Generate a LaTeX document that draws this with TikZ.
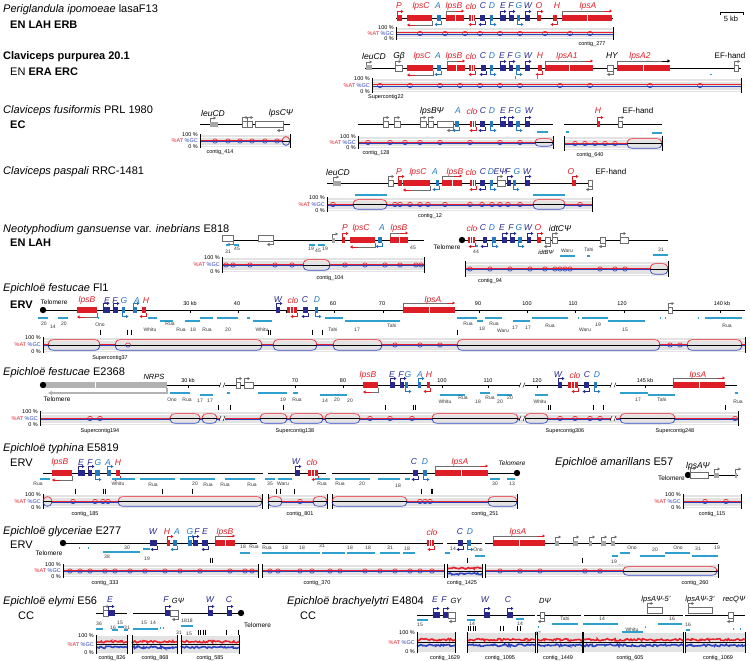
\documentclass[tikz,border=0pt]{standalone}
\usepackage{fontspec}
\setmainfont{Liberation Sans}
\usetikzlibrary{arrows.meta,decorations.pathmorphing}
\definecolor{gred}{RGB}{222,30,38}
\definecolor{gdb}{RGB}{40,40,140}
\definecolor{gmb}{RGB}{35,120,190}
\definecolor{gteal}{RGB}{45,160,205}
\definecolor{gcr}{RGB}{230,35,45}
\definecolor{gcb}{RGB}{45,65,190}
\definecolor{ogray}{RGB}{110,110,110}
\tikzset{
 ttl/.style={anchor=west, font=\fontsize{11}{13}\selectfont, inner sep=0},
 sub/.style={anchor=west, font=\fontsize{11}{13}\selectfont\bfseries, inner sep=0},
 glab/.style={font=\fontsize{8.5}{10}\selectfont\itshape, inner sep=0},
 slab/.style={font=\fontsize{5.5}{6}\selectfont, inner sep=0},
 tlab/.style={font=\fontsize{5}{6}\selectfont, inner sep=0, text=black!80},
 clab/.style={font=\fontsize{5.5}{6}\selectfont, inner sep=0, anchor=north},
 axis/.style={line width=0.8pt, black},
 tbar/.style={line width=2pt, gteal},
 garrow/.style={-{Triangle[length=2.5pt,width=3pt]}, line width=0.7pt},
}
\newcounter{nn}
\newcommand\lab[4][glab]{\stepcounter{nn}\node[#1] (n\arabic{nn}) at (#2,#3) {#4};}
\newcommand\gR[4]{\fill[#4] (#1,{#3-3}) rectangle (#2,{#3+3});\draw[#4,garrow] (#1,{#3-3}) -- (#1,{#3-6.5}) -- ({#1+6.5},{#3-6.5});}
\newcommand\gRb[4]{\fill[#4] (#1,{#3-3}) rectangle (#2,{#3+3});\draw[#4,garrow] (#1,{#3+3}) -- (#1,{#3+6.5}) -- ({#1+6.5},{#3+6.5});}
\newcommand\gL[4]{\fill[#4] (#1,{#3-3}) rectangle (#2,{#3+3});\draw[#4,garrow] (#2,{#3+3}) -- (#2,{#3+6.5}) -- ({#2-6.5},{#3+6.5});}
\newcommand\bR[3]{\fill[gred] (#1,{#3-3}) rectangle (#2,{#3+3});
 \draw[white,line width=0.6pt] ({(#1+#2)/2},{#3-3}) -- ({(#1+#2)/2},{#3+3});
 \draw[ogray,line width=0.6pt] (#1,{#3-3}) -- (#1,{#3-7}) -- ({#2-5},{#3-7});
 \draw[gred,garrow] ({#2-8},{#3-7}) -- (#2,{#3-7});}
\newcommand\bL[3]{\fill[gred] (#1,{#3-3}) rectangle (#2,{#3+3});
 \draw[ogray,line width=0.6pt] (#2,{#3+3}) -- (#2,{#3+7}) -- ({#1+5},{#3+7});
 \draw[gred,garrow] ({#1+8},{#3+7}) -- (#1,{#3+7});}
\newcommand\cL[3]{\fill[gred] (#1,{#3-3}) rectangle (#2,{#3+3});
 \draw[white,line width=0.5pt] ({#1+0.33*(#2-#1)},{#3-3}) -- ({#1+0.33*(#2-#1)},{#3+3}) ({#1+0.66*(#2-#1)},{#3-3}) -- ({#1+0.66*(#2-#1)},{#3+3});
 \draw[gred,garrow] (#2,{#3+3}) -- (#2,{#3+6.5}) -- ({#2-6.5},{#3+6.5});}
\newcommand\oR[3]{\draw[ogray,fill=white,line width=0.5pt] (#1,{#3-3}) rectangle (#2,{#3+3});\draw[ogray,garrow,line width=0.5pt] (#1,{#3-3}) -- (#1,{#3-6.5}) -- ({#1+6},{#3-6.5});}
\newcommand\oL[3]{\draw[ogray,fill=white,line width=0.5pt] (#1,{#3-3}) rectangle (#2,{#3+3});\draw[ogray,garrow,line width=0.5pt] (#2,{#3+3}) -- (#2,{#3+6.5}) -- ({#2-6},{#3+6.5});}
\newcommand\sG[3]{\fill[gray!70] (#1,{#3-2.5}) rectangle (#2,{#3+2.5});\draw[ogray,garrow,line width=0.5pt] (#1,{#3-2.5}) -- (#1,{#3-6}) -- ({#1+6},{#3-6});}
\newcommand\tel[2]{\fill (#1,#2) circle[radius=3.2pt];}
\newcommand\tb[3]{\draw[tbar] (#1,#3) -- (#2,#3);}
\newcommand\bt[2]{\draw[line width=1pt] (#1,{#2-2.5}) -- (#1,{#2+2.5});}
\newcommand\sk[2]{\draw[line width=0.4pt] (#1,#2) -- (#1,{#2+2.5});}
\newcommand\brk[2]{\fill[white] ({#1-2.5},{#2-1.5}) rectangle ({#1+2.5},{#2+1.5});\draw[line width=0.4pt] ({#1-3},{#2+2.5}) -- ({#1-1},{#2-2.5}) ({#1+1},{#2+2.5}) -- ({#1+3},{#2-2.5});}
\newcommand\gc[4]{\pgfmathsetmacro\gcyc{(#3+#4)/2}%
 \fill[gray!22] (#1,#3) rectangle (#2,#4);
 \draw[white,line width=0.6pt] (#1,{#3+2}) -- (#2,{#3+2}) (#1,{#4-2}) -- (#2,{#4-2});
 \draw[gcr,line width=0.8pt] (#1,{\gcyc-0.6}) -- (#2,{\gcyc-0.6});
 \draw[gcb,line width=0.8pt] (#1,{\gcyc+0.6}) -- (#2,{\gcyc+0.6});
 \draw[line width=1pt] (#1,{#3-1}) -- (#1,{#4+1}) (#2,{#3-1}) -- (#2,{#4+1});}
\newcommand\bu[4]{\pgfmathsetmacro\gcyc{(#3+#4)/2}\pgfmathsetmacro\gchh{(#4-#3)/2-1.8}%
 \fill[gray!22] ({#1+1},{\gcyc-1.6}) rectangle ({#2-1},{\gcyc+1.6});
 \draw[line width=0.4pt] (#1,\gcyc) -- (#2,\gcyc);
 \draw[gcr,line width=0.7pt] (#1,{\gcyc-0.6}) .. controls ({#1+2},{\gcyc-\gchh}) .. ({#1+5},{\gcyc-\gchh}) -- ({#2-5},{\gcyc-\gchh}) .. controls ({#2-2},{\gcyc-\gchh}) .. (#2,{\gcyc-0.6});
 \draw[gcb,line width=0.7pt] (#1,{\gcyc+0.6}) .. controls ({#1+2},{\gcyc+\gchh}) .. ({#1+5},{\gcyc+\gchh}) -- ({#2-5},{\gcyc+\gchh}) .. controls ({#2-2},{\gcyc+\gchh}) .. (#2,{\gcyc+0.6});}
\newcommand\ci[3]{\pgfmathsetmacro\gcyc{(#2+#3)/2}%
 \draw[gcr,line width=0.6pt] ({#1-2.5},\gcyc) .. controls ({#1-2.5},{\gcyc-2.8}) and ({#1+2.5},{\gcyc-2.8}) .. ({#1+2.5},\gcyc);
 \draw[gcb,line width=0.6pt] ({#1-2.5},\gcyc) .. controls ({#1-2.5},{\gcyc+2.8}) and ({#1+2.5},{\gcyc+2.8}) .. ({#1+2.5},\gcyc);}
\newcommand\nz[4]{\pgfmathsetmacro\gcyc{(#3+#4)/2}%
 \fill[gray!22] (#1,#3) rectangle (#2,#4);
 \draw[line width=0.4pt] (#1,\gcyc) -- (#2,\gcyc);
 \draw[gcr,line width=1.6pt,decorate,decoration={random steps,segment length=1.5pt,amplitude=1.1pt}] (#1,{\gcyc-2.8}) -- (#2,{\gcyc-2.8});
 \draw[gcb,line width=1.6pt,decorate,decoration={random steps,segment length=1.5pt,amplitude=1.1pt}] (#1,{\gcyc+2.8}) -- (#2,{\gcyc+2.8});
 \draw[line width=1pt] (#1,{#3-1}) -- (#1,{#4+1}) (#2,{#3-1}) -- (#2,{#4+1});}
\newcommand\pl[3]{\lab[slab,anchor=east]{{#1-2}}{#2}{100 \%}\lab[slab,anchor=east]{{#1-2}}{#3}{0 \%}\lab[slab,anchor=east]{{#1-2}}{{(#2+#3)/2}}{\textcolor{gcr}{\%AT} \textcolor{gcb}{\%GC}}}
\begin{document}
\begin{tikzpicture}[x=1pt,y=-1pt]
\useasboundingbox (0,0) rectangle (750,661);
\fill[white] (0,0) rectangle (750,661);
%================ Row 1
\node[ttl] (t1) at (3,10) {\textit{Periglandula ipomoeae} lasaF13};
\node[sub] (s1) at (10,25) {EN LAH ERB};
\draw[axis] (396,18) -- (613,18);
\gR{397}{402}{18}{gred}
\bL{407}{432}{18}
\gL{437}{441}{18}{gmb}
\bR{446}{464}{18}
\cL{469}{475}{18}
\gL{480}{485}{18}{gdb}
\gRb{490}{493}{18}{gmb}
\gR{500}{506}{18}{gdb}
\gR{509}{514}{18}{gdb}
\gRb{517}{520}{18}{gmb}
\gR{525}{530}{18}{gdb}
\gR{537}{541}{18}{gred}
\gL{553}{557}{18}{gred}
\bR{562}{612}{18}
\lab[glab,gred]{399}{6}{P}
\lab[glab,gred]{421}{6}{lpsC}
\lab[glab,gmb]{438}{6}{A}
\lab[glab,gred]{454}{6}{lpsB}
\lab[glab,gred]{471}{6}{clo}
\lab[glab,gdb]{483}{6}{C}
\lab[glab,gmb]{492}{6}{D}
\lab[glab,gdb]{503}{6}{E}
\lab[glab,gdb]{511}{6}{F}
\lab[glab,gmb]{519}{6}{G}
\lab[glab,gdb]{528}{6}{W}
\lab[glab,gred]{539}{6}{O}
\lab[glab,gred]{557}{6}{H}
\lab[glab,gred]{588}{6}{lpsA}
\gc{396}{613}{28}{39}
\pl{396}{28}{39}
\foreach \q in {420,445,465,480,500,520,545,570,590}{\ci{\q}{28}{39}}
\lab[clab]{592}{41}{contig\_277}
\draw[line width=0.6pt] (720,15) -- (720,12) -- (743,12) -- (743,15);
\lab[slab,font=\fontsize{7.5}{9}\selectfont]{731}{19}{5 kb}
%================ Row 2
\node[ttl,font=\fontsize{11}{13}\selectfont\bfseries] (t2) at (3,57) {Claviceps purpurea 20.1};
\node[ttl] (s2) at (10,72) {EN \textbf{ERA ERC}};
\draw[axis] (365,68) -- (741,68);
\sG{366}{372}{68}
\oR{395}{402}{68}
\bL{407}{433}{68}
\gL{437}{441}{68}{gmb}
\bR{447}{465}{68}
\cL{469}{475}{68}
\gL{481}{486}{68}{gdb}
\gRb{490}{493}{68}{gmb}
\gR{500}{506}{68}{gdb}
\gR{509}{513}{68}{gdb}
\gRb{516}{520}{68}{gmb}
\gR{525}{530}{68}{gdb}
\gL{538}{542}{68}{gred}
\bR{545}{593}{68}
\oL{607}{613}{68}
\bR{617}{670}{68}
\draw[black,garrow] (662,61) -- (670,61);
\oR{734}{738}{68}
\lab{374}{56}{leuCD}
\lab{399}{56}{G\textit{β}}
\lab[glab,gred]{422}{56}{lpsC}
\lab[glab,gmb]{438}{56}{A}
\lab[glab,gred]{454}{56}{lpsB}
\lab[glab,gred]{471}{56}{clo}
\lab[glab,gdb]{483}{56}{C}
\lab[glab,gmb]{492}{56}{D}
\lab[glab,gdb]{502}{56}{E}
\lab[glab,gdb]{510}{56}{F}
\lab[glab,gmb]{518}{56}{G}
\lab[glab,gdb]{528}{56}{W}
\lab[glab,gred]{540}{56}{H}
\lab[glab,gred]{567}{56}{lpsA1}
\lab{612}{56}{HY}
\lab[glab,gred]{640}{56}{lpsA2}
\lab[glab,font=\fontsize{8}{10}\selectfont]{730}{56}{EF-hand}
\draw[gteal,line width=1pt] (515,76) -- (515,82) (537,75) -- (537,82) (710,75) -- (712,75);
\gc{372}{741}{79}{92}
\pl{372}{79}{92}
\foreach \q in {380,410,440,460,480,500,520,560,590,650,700}{\ci{\q}{79}{92}}
\lab[clab,anchor=north west]{368}{94}{Supercontig22}
%================ Row 3
\node[ttl] (t3) at (3,111) {\textit{Claviceps fusiformis} PRL 1980};
\node[sub] (s3) at (10,125) {EC};
\draw[axis] (200,124) -- (290,124);
\sG{210}{218}{124}
\oR{242}{247}{124}
\oR{247}{252}{124}
\oL{255}{283}{124}
\lab{213}{113}{leuCD}
\lab{281}{113}{lpsC\textit{Ψ}}
\gc{200}{290}{135}{147}
\pl{200}{135}{147}
\foreach \q in {215,228,240,252,265,277}{\ci{\q}{135}{147}}
\bu{282}{290}{135}{147}
\lab[clab]{220}{149}{contig\_414}
\draw[axis] (358,124) -- (553,124);
\oR{383}{388}{124}
\oR{394}{400}{124}
\oR{420}{426}{124}
\oR{428}{433}{124}
\oL{437}{453}{124}
\gL{455}{459}{124}{gmb}
\cL{470}{476}{124}
\gL{480}{485}{124}{gdb}
\gRb{490}{493}{124}{gmb}
\gR{500}{506}{124}{gdb}
\gR{508}{513}{124}{gdb}
\gRb{516}{520}{124}{gmb}
\gR{525}{530}{124}{gdb}
\lab{432}{111}{lpsB\textit{Ψ}}
\lab[glab,gmb]{458}{111}{A}
\lab[glab,gred]{472}{111}{clo}
\lab[glab,gdb]{483}{111}{C}
\lab[glab,gmb]{492}{111}{D}
\lab[glab,gdb]{503}{111}{E}
\lab[glab,gdb]{511}{111}{F}
\lab[glab,gmb]{518}{111}{G}
\lab[glab,gdb]{529}{111}{W}
\tb{537}{548}{132}
\gc{358}{553}{137}{148}
\pl{358}{137}{148}
\foreach \q in {368,390,405,420,440,470,500,520}{\ci{\q}{137}{148}}
\bu{535}{553}{137}{148}
\lab[clab]{376}{150}{contig\_128}
\draw[axis] (564,124) -- (662,124);
\gR{597}{600}{124}{gred}
\oR{618}{622}{124}
\lab[glab,gred]{598}{111}{H}
\lab[glab,font=\fontsize{8}{10}\selectfont]{638}{111}{EF-hand}
\tb{566}{569}{132}
\tb{652}{662}{133}
\gc{564}{662}{137}{150}
\foreach \q in {575,585,595,605,615}{\ci{\q}{137}{150}}
\bu{627}{662}{137}{150}
\lab[clab]{590}{152}{contig\_640}
%================ Row 4
\node[ttl] (t4) at (3,172) {\textit{Claviceps paspali} RRC-1481};
\draw[axis] (327,183) -- (593,183);
\sG{333}{341}{183}
\oR{388}{393}{183}
\gR{398}{402}{183}{gred}
\bL{403}{430}{183}
\gL{436}{439}{183}{gmb}
\bR{442}{462}{183}
\cL{470}{476}{183}
\gL{480}{485}{183}{gdb}
\gRb{490}{493}{183}{gmb}
\oR{497}{505}{183}
\gR{507}{511}{183}{gdb}
\gRb{513}{516}{183}{gmb}
\gR{525}{530}{183}{gdb}
\gR{572}{576}{183}{gred}
\oL{588}{592}{183}
\lab{338}{172}{leuCD}
\lab[glab,gred]{399}{172}{P}
\lab[glab,gred]{418}{172}{lpsC}
\lab[glab,gmb]{435}{172}{A}
\lab[glab,gred]{455}{172}{lpsB}
\lab[glab,gred]{471}{172}{clo}
\lab[glab,gdb]{483}{172}{C}
\lab[glab,gmb]{491}{172}{D}
\lab[glab,gdb]{500}{172}{E\textit{Ψ}}
\lab[glab,gdb]{508}{172}{F}
\lab[glab,gmb]{517}{172}{G}
\lab[glab,gdb]{527}{172}{W}
\lab[glab,gred]{571}{172}{O}
\lab[glab,font=\fontsize{8}{10}\selectfont]{611}{172}{EF-hand}
\tb{355}{387}{195}
\tb{533}{565}{195}
\gc{327}{592}{198}{211}
\pl{327}{198}{211}
\foreach \q in {333,395,400,410,420,428,445,470,482,492,500,508,520,580}{\ci{\q}{198}{211}}
\bu{353}{387}{198}{211}
\bu{533}{565}{198}{211}
\lab[clab]{430}{213}{contig\_12}
%================ Row 5
\node[ttl] (t5) at (3,230) {\textit{Neotyphodium gansuense} var. \textit{inebrians} E818};
\node[sub] (s5) at (10,243) {EN LAH};
\draw[axis] (222,240) -- (424,240);
\oL{222}{233}{238}
\oL{258}{273}{238}
\sG{332}{335}{240}
\gR{342}{345}{240}{gred}
\bL{350}{375}{240}
\gL{378}{382}{240}{gmb}
\bR{390}{408}{240}
\lab[glab,gred]{345}{228}{P}
\lab[glab,gred]{361}{228}{lpsC}
\lab[glab,gmb]{382}{228}{A}
\lab[glab,gred]{399}{228}{lpsB}
\tb{226}{229}{245}
\tb{234}{239}{245}
\tb{309}{315}{245}
\tb{318}{325}{245}
\lab[tlab]{228}{252}{31}
\lab[tlab]{237}{249}{45}
\lab[tlab]{311}{249}{19}
\lab[tlab]{318}{251}{45}
\lab[tlab]{325}{249}{19}
\lab[tlab]{413}{248}{45}
\gc{222}{424}{258}{272}
\pl{222}{258}{272}
\foreach \q in {226,233,250,275,292,345,365,385,400,416,421}{\ci{\q}{258}{272}}
\bu{303}{330}{258}{272}
\lab[clab]{330}{275}{contig\_104}
\tel{462}{240}
\lab[slab,font=\fontsize{6.5}{8}\selectfont]{447}{247}{Telomere}
\draw[axis] (462,240) -- (668,240);
\cL{468}{475}{240}
\gL{483}{487}{240}{gdb}
\gRb{492}{496}{240}{gmb}
\gR{502}{507}{240}{gdb}
\gR{510}{515}{240}{gdb}
\gRb{518}{522}{240}{gmb}
\gR{527}{531}{240}{gdb}
\gR{537}{541}{240}{gred}
\oL{545}{550}{240}
\oR{552}{557}{240}
\oL{600}{605}{240}
\oR{620}{628}{240}
\lab[glab,gred]{472}{228}{clo}
\lab[glab,gdb]{483}{228}{C}
\lab[glab,gmb]{492}{228}{D}
\lab[glab,gdb]{502}{228}{E}
\lab[glab,gdb]{511}{228}{F}
\lab[glab,gmb]{519}{228}{G}
\lab[glab,gdb]{528}{228}{W}
\lab[glab,gred]{538}{228}{O}
\lab[glab]{560}{228}{idtC\textit{Ψ}}
\tb{476}{478}{246}
\lab[tlab]{476}{252}{44}
\lab[slab,font=\fontsize{6}{7}\selectfont\itshape]{546}{252}{idtB\textit{Ψ}}
\lab[tlab]{567}{251}{Waru}
\tb{560}{575}{256}
\lab[tlab]{589}{250}{Tahi}
\tb{587}{590}{256}
\lab[tlab]{661}{250}{31}
\tb{653}{668}{255}
\gc{465}{668}{262}{276}
\foreach \q in {470,490,510,530,545,555,560,565,570,600,615,625}{\ci{\q}{262}{276}}
\bu{650}{668}{262}{276}
\lab[clab]{490}{278}{contig\_94}
%================ Row 6 Fl1
\node[ttl] (t6) at (3,289) {\textit{Epichloë festucae} Fl1};
\node[sub] (s6) at (10,305) {ERV};
\draw[axis] (43,310) -- (745,310);
\tel{43}{310}
\lab[slab,font=\fontsize{6.5}{8}\selectfont]{54}{302}{Telomere}
\foreach \q in {93.6,141.8,190,238.2,286.4,334.6,382.8,431,479.2,527.4,575.6,623.8,672,720.2}{\sk{\q}{310}}
\bL{77}{97}{310}
\gR{103}{110}{310}{gdb}
\gR{113}{118}{310}{gdb}
\gRb{122}{125}{310}{gmb}
\gR{133}{137}{310}{gmb}
\gL{142}{146}{310}{gred}
\gR{276}{280}{310}{gdb}
\cL{287}{297}{310}
\gL{303}{308}{310}{gdb}
\gRb{315}{318}{310}{gmb}
\bR{403}{455}{310}
\oR{668}{672}{310}
\lab[glab,gred]{87}{300.5}{lpsB}
\lab[glab,gdb]{107}{300.5}{E}
\lab[glab,gdb]{115}{300.5}{F}
\lab[glab,gmb]{124}{300.5}{G}
\lab[glab,gmb]{137}{300.5}{A}
\lab[glab,gred]{146}{300.5}{H}
\lab[glab,gdb]{278}{300}{W}
\lab[glab,gred]{293}{300}{clo}
\lab[glab,gdb]{305}{300}{C}
\lab[glab,gmb]{317}{300}{D}
\lab[glab,gred]{433}{300}{lpsA}
\lab[slab]{190}{304}{30 kb}
\lab[slab]{237}{304}{40}
\lab[slab]{333}{304}{60}
\lab[slab]{382}{304}{70}
\lab[slab]{478}{304}{90}
\lab[slab]{527}{304}{100}
\lab[slab]{573}{304}{110}
\lab[slab]{622}{304}{120}
\lab[slab]{722}{304}{140 kb}
\tb{38}{48}{318}\tb{58}{68}{318}\tb{148}{157}{318}\tb{160}{173}{321}\tb{185}{200}{321}\tb{200}{213}{318}\tb{217}{238}{318}\tb{247}{250}{318}\tb{253}{272}{321}
\tb{325}{343}{318}\tb{345}{400}{321}\tb{457}{477}{318}\tb{477}{483}{321}\tb{485}{502}{318}\tb{513}{530}{321}\tb{532}{568}{318}\tb{582}{608}{318}\tb{608}{645}{321}\tb{705}{742}{318}
\tb{98}{99}{318}\tb{578}{579}{318}\tb{660}{661}{318}\tb{665}{666}{318}\tb{698}{699}{318}
\lab[tlab]{44}{324}{20}\lab[tlab]{53}{327}{14}\lab[tlab]{64}{324}{20}\lab[tlab]{100}{325}{Ono}
\lab[tlab]{150}{330}{Whitu}\lab[tlab]{170}{324}{Rua}\lab[tlab]{181}{330}{Rua}\lab[tlab]{193}{330}{18}\lab[tlab]{207}{330}{Rua}\lab[tlab]{228}{330}{20}\lab[tlab]{262}{330}{Whitu}
\lab[tlab]{333}{330}{Tahi}\lab[tlab]{357}{330}{17}\lab[tlab]{392}{326}{Tahi}
\lab[tlab]{468}{324}{Rua}\lab[tlab]{482}{329}{18}\lab[tlab]{494}{324}{Rua}\lab[tlab]{503}{331}{Waru}\lab[tlab]{515}{328}{17}\lab[tlab]{528}{328}{17}\lab[tlab]{550}{326}{Rua}\lab[tlab]{585}{330}{Waru}\lab[tlab]{598}{325}{19}\lab[tlab]{625}{330}{15}\lab[tlab]{727}{326}{Rua}
\foreach \q in {100,127,131,268,270,312,322,457}{\bt{\q}{332}}
\gc{43}{745}{338}{352}
\pl{43}{338}{352}
\bu{48}{100}{338}{352}\bu{115}{262}{338}{352}\bu{273}{317}{338}{352}\bu{333}{382}{338}{352}\bu{457}{660}{338}{352}\bu{687}{742}{338}{352}
\foreach \q in {128,395,420,440,670,680}{\ci{\q}{338}{352}}
\lab[clab]{110}{355}{Supercontig37}
%================ Row 7 E2368
\node[ttl] (t7) at (3,373) {\textit{Epichloë festucae} E2368};
\draw[axis] (43,385) -- (737,385);
\fill[gray!60] (43,382) rectangle (167,388);
\draw[white,line width=0.6pt] (95,382) -- (95,388);
\draw[gray!60,line width=1.2pt,-{Triangle[length=4pt,width=4pt]}] (167,388) -- (167,393) -- (48,393);
\tel{43}{385}
\lab[glab,font=\fontsize{7.5}{9}\selectfont\itshape]{154}{377}{NRPS}
\lab[slab,font=\fontsize{6.5}{8}\selectfont]{57}{399}{Telomere}
\foreach \q in {188,236,295,343,390,442,488,537,645,693}{\sk{\q}{385}}
\oR{236}{240}{385}
\oR{244}{253}{385}
\bL{363}{378}{385}
\gR{390}{395}{385}{gdb}
\gR{400}{404}{385}{gdb}
\gRb{405}{408}{385}{gmb}
\gR{418}{421}{385}{gmb}
\gL{427}{430}{385}{gred}
\gR{558}{562}{385}{gdb}
\cL{568}{578}{385}
\gL{584}{589}{385}{gdb}
\gRb{594}{597}{385}{gmb}
\bR{673}{725}{385}
\brk{222}{385}\brk{522}{385}\brk{613}{385}
\lab[glab,gred]{368}{375}{lpsB}
\lab[glab,gdb]{392}{375}{E}
\lab[glab,gdb]{401}{375}{F}
\lab[glab,gmb]{408}{375}{G}
\lab[glab,gmb]{420}{375}{A}
\lab[glab,gred]{429}{375}{H}
\lab[glab,gdb]{558}{375}{W}
\lab[glab,gred]{575}{375}{clo}
\lab[glab,gdb]{587}{375}{C}
\lab[glab,gmb]{597}{375}{D}
\lab[glab,gred]{698}{375}{lpsA}
\lab[slab]{188}{381}{30 kb}
\lab[slab]{295}{381}{70}
\lab[slab]{343}{381}{80}
\lab[slab]{442}{381}{100}
\lab[slab]{488}{381}{110}
\lab[slab]{537}{381}{120}
\lab[slab]{645}{381}{145 kb}
\tb{170}{190}{393}\tb{200}{213}{395}\tb{227}{230}{393}\tb{258}{287}{393}\tb{293}{298}{393}\tb{320}{347}{395}
\tb{440}{465}{395}\tb{480}{490}{393}\tb{497}{512}{395}\tb{535}{548}{395}\tb{620}{648}{393}\tb{648}{675}{395}\tb{735}{738}{393}
\lab[tlab]{172}{400}{Ono}\lab[tlab]{187}{400}{Rua}\lab[tlab]{200}{401}{17}\lab[tlab]{210}{401}{17}\lab[tlab]{283}{400}{19}\lab[tlab]{297}{400}{Rua}\lab[tlab]{325}{401}{14}\lab[tlab]{337}{400}{20}\lab[tlab]{350}{401}{20}
\lab[tlab]{445}{402}{Whitu}\lab[tlab]{463}{398}{Rua}\lab[tlab]{478}{402}{18}\lab[tlab]{490}{398}{Rua}\lab[tlab]{500}{402}{20}\lab[tlab]{510}{398}{20}\lab[tlab]{540}{402}{Whitu}\lab[tlab]{638}{400}{17}\lab[tlab]{662}{400}{Tahi}\lab[tlab]{738}{402}{Rua}
\foreach \q in {218,230,283,385,413,415,548,550,593,603,725}{\bt{\q}{407}}
\gc{40}{738}{412}{425}
\pl{40}{412}{425}
\bu{170}{200}{412}{425}\bu{202}{217}{412}{425}\bu{260}{287}{412}{425}\bu{290}{323}{412}{425}\bu{325}{360}{412}{425}\bu{432}{518}{412}{425}\bu{525}{548}{412}{425}\bu{620}{675}{412}{425}
\foreach \q in {90,100,370,390,412,560,575,590,600,735}{\ci{\q}{412}{425}}
\brk{222}{418.5}\brk{522}{418.5}\brk{613}{418.5}
\lab[clab]{100}{428}{Supercontig194}
\lab[clab]{295}{428}{Supercontig138}
\lab[clab]{565}{428}{Supercontig306}
\lab[clab]{675}{428}{Supercontig248}
%================ Row 8 typhina
\node[ttl] (t8) at (3,449) {\textit{Epichloë typhina} E5819};
\node[ttl] (s8) at (10,463) {ERV};
\draw[axis] (43,473) -- (263,473);
\draw[axis] (268,473) -- (326,473);
\draw[axis] (332,473) -- (517,473);
\bL{52}{72}{473}
\gR{78}{85}{473}{gdb}
\gR{88}{92}{473}{gdb}
\gRb{95}{100}{473}{gmb}
\gR{107}{111}{473}{gmb}
\gL{116}{120}{473}{gred}
\gR{295}{300}{473}{gdb}
\cL{308}{318}{473}
\gL{413}{418}{473}{gdb}
\gRb{423}{427}{473}{gmb}
\bR{435}{488}{473}
\tel{517}{473}
\lab[slab,font=\fontsize{6.5}{8}\selectfont\itshape]{512}{463}{Telomere}
\lab[glab,gred]{60}{462.5}{lpsB}
\lab[glab,gdb]{81}{462.5}{E}
\lab[glab,gdb]{90}{462.5}{F}
\lab[glab,gmb]{98}{462.5}{G}
\lab[glab,gmb]{108}{462.5}{A}
\lab[glab,gred]{118}{462.5}{H}
\lab[glab,gdb]{296}{462}{W}
\lab[glab,gred]{312}{462}{clo}
\lab[glab,gdb]{414}{462}{C}
\lab[glab,gmb]{425}{462}{D}
\lab[glab,gred]{460}{462}{lpsA}
\tb{40}{50}{479}\tb{112}{135}{479}\tb{140}{175}{479}\tb{180}{215}{479}\tb{225}{255}{479}\tb{265}{275}{479}\tb{278}{292}{479}\tb{315}{330}{479}\tb{335}{370}{479}\tb{378}{400}{479}\tb{405}{410}{479}\tb{490}{500}{479}\tb{507}{515}{479}
\lab[tlab]{38}{484}{Rua}\lab[tlab]{118}{484}{Whitu}\lab[tlab]{153}{485}{Rua}\lab[tlab]{195}{484}{20}\lab[tlab]{208}{485}{Rua}\lab[tlab]{225}{485}{Rua}\lab[tlab]{252}{485}{Rua}\lab[tlab]{270}{484}{35}\lab[tlab]{283}{484}{Waru}\lab[tlab]{322}{484}{Rua}\lab[tlab]{340}{484}{Rua}\lab[tlab]{362}{484}{20}\lab[tlab]{398}{486}{18}\lab[tlab]{495}{484}{30}\lab[tlab]{512}{484}{13}
\foreach \q in {75,103,105,162,192,276,280,294,421,431,432}{\bt{\q}{491}}
\gc{43}{262}{495}{508}
\pl{43}{495}{508}
\bu{43}{52}{495}{508}\bu{118}{262}{495}{508}
\foreach \q in {73,95,103,108}{\ci{\q}{495}{508}}
\gc{268}{327}{495}{508}
\bu{268}{282}{495}{508}\bu{313}{327}{495}{508}\ci{300}{495}{508}
\gc{332}{517}{495}{508}
\bu{332}{407}{495}{508}\bu{488}{517}{495}{508}
\foreach \q in {420,425,430}{\ci{\q}{495}{508}}
\lab[clab]{85}{511}{contig\_185}
\lab[clab]{300}{511}{contig\_801}
\lab[clab]{485}{511}{contig\_251}
% amarillans
\node[ttl] (t8b) at (555,463) {\textit{Epichloë amarillans} E57};
\lab{698}{466}{lpsA\textit{Ψ}}
\lab[slab,font=\fontsize{6.5}{8}\selectfont,anchor=east]{685}{478}{Telomere}
\draw[axis] (688,475) -- (738,475);
\tel{688}{475}
\oR{690}{708}{475}
\sG{714}{719}{475}
\sG{735}{737}{475}
\gc{683}{741}{495}{508}
\pl{683}{495}{508}
\ci{705}{495}{508}\ci{726}{495}{508}
\lab[clab]{712}{511}{contig\_115}
%================ Row 9 glyceriae
\node[ttl] (t9) at (3,532) {\textit{Epichloë glyceriae} E277};
\node[ttl] (s9) at (10,545) {ERV};
\tel{63}{543}
\lab[slab,font=\fontsize{6.5}{8}\selectfont]{49}{553}{Telomere}
\draw[axis] (63,543) -- (257,543);
\draw[axis] (262,543) -- (443,543);
\draw[axis] (447,543) -- (482,543);
\draw[axis] (485,543) -- (718,543);
\gL{150}{157}{543}{gdb}
\gR{167}{170}{543}{gred}
\gL{173}{177}{543}{gmb}
\gR{188}{192}{543}{gmb}
\gR{193}{198}{543}{gdb}
\gL{202}{208}{543}{gdb}
\bR{215}{235}{543}
\cL{427}{434}{543}
\gL{458}{463}{543}{gdb}
\gRb{467}{471}{543}{gmb}
\bR{493}{545}{543}
\sG{555}{559}{543}\sG{573}{578}{543}\sG{589}{592}{543}\sG{601}{606}{543}\sG{611}{615}{543}
\lab[glab,gdb]{153}{532}{W}
\lab[glab,gred]{167}{532}{H}
\lab[glab,gmb]{177}{532}{A}
\lab[glab,gmb]{190}{532}{G}
\lab[glab,gdb]{197}{532}{F}
\lab[glab,gdb]{205}{532}{E}
\lab[glab,gred]{225}{532}{lpsB}
\lab[glab,gred]{432}{532}{clo}
\lab[glab,gdb]{460}{532}{C}
\lab[glab,gmb]{470}{532}{D}
\lab[glab,gred]{518}{532}{lpsA}
\tb{103}{140}{552}\tb{143}{150}{549}\tb{240}{250}{553}\tb{262}{290}{553}\tb{290}{320}{553}\tb{322}{345}{553}\tb{347}{375}{553}\tb{380}{400}{553}\tb{403}{415}{553}\tb{445}{450}{553}\tb{475}{485}{556}\tb{612}{618}{556}\tb{620}{630}{553}\tb{640}{665}{556}\tb{665}{690}{553}\tb{692}{718}{556}
\tb{79}{80}{548}\tb{88}{89}{548}
\lab[tlab]{107}{557}{38}\lab[tlab]{127}{548}{30}\lab[tlab]{147}{559}{19}\lab[tlab]{243}{547}{18}\lab[tlab]{254}{547}{Rua}\lab[tlab]{267}{548}{Rua}\lab[tlab]{285}{548}{18}\lab[tlab]{302}{548}{18}\lab[tlab]{322}{546}{31}\lab[tlab]{350}{548}{18}\lab[tlab]{368}{548}{18}
\lab[tlab]{390}{548}{31}\lab[tlab]{407}{549}{18}\lab[tlab]{453}{549}{14}\lab[tlab]{478}{550}{Ono}\lab[tlab]{614}{562}{19}\lab[tlab]{621}{567}{31}\lab[tlab]{632}{548}{Ono}\lab[tlab]{655}{550}{20}\lab[tlab]{678}{548}{Ono}\lab[tlab]{698}{549}{31}\lab[tlab]{717}{548}{19}
\foreach \q in {210,212,467,582}{\bt{\q}{560}}
\gc{63}{258}{565}{577}
\pl{63}{565}{577}
\foreach \q in {70,80,90,105,115,130,145,165,180,200,230,245,252}{\ci{\q}{565}{577}}
\gc{262}{444}{565}{577}
\foreach \q in {270,278,300,312,330,340,365,380,395,410,420,432}{\ci{\q}{565}{577}}
\nz{447}{482}{565}{577}
\gc{485}{718}{565}{577}
\foreach \q in {500,520,540,585,600}{\ci{\q}{565}{577}}
\bu{623}{717}{565}{577}
\lab[clab]{105}{580}{contig\_333}
\lab[clab]{317}{580}{contig\_370}
\lab[clab]{462}{580}{contig\_1425}
\lab[clab]{695}{580}{contig\_260}
%================ Row 10
\node[ttl] (t10) at (3,602) {\textit{Epichloë elymi} E56};
\node[ttl] (s10) at (18,616) {CC};
\draw[axis] (96,613) -- (127,613);
\draw[axis] (133,613) -- (177,613);
\draw[axis] (181,613) -- (240,613);
\tel{241}{613}
\lab[slab,font=\fontsize{6.5}{8}\selectfont,anchor=west]{244}{625}{Telomere}
\oR{103}{108}{613}
\gR{108}{115}{613}{gdb}
\gR{165}{170}{613}{gdb}
\oL{170}{178}{613}
\gR{208}{213}{613}{gdb}
\gR{227}{232}{613}{gdb}
\lab[glab,gdb]{110}{600}{E}
\lab[glab,gdb]{166}{600}{F}
\lab[glab,font=\fontsize{7.5}{9}\selectfont\itshape]{178}{601}{G\textit{Ψ}}
\lab[glab,gdb]{210}{600}{W}
\lab[glab,gdb]{229}{600}{C}
\tb{96}{103}{629}\tb{112}{118}{630}\tb{118}{124}{627}\tb{124}{128}{630}\tb{133}{158}{629}\tb{160}{161}{628}\tb{163}{164}{628}\tb{181}{193}{626}
\lab[tlab]{99}{624}{36}\lab[tlab]{113}{628}{16}\lab[tlab]{120}{623}{15}\lab[tlab]{127}{628}{31}\lab[tlab]{144}{623}{15}\lab[tlab]{153}{623}{14}\lab[tlab]{187}{621}{1818}\lab[tlab]{179}{633}{31}\lab[tlab]{189}{634}{15}
\foreach \q in {198,200.5,203,205.5,226,238}{\bt{\q}{632}}
\nz{96}{127}{636}{653}
\nz{132}{177}{636}{653}
\nz{181}{239}{636}{653}
\pl{96}{636}{653}
\lab[clab]{112}{655}{contig\_826}
\lab[clab]{155}{655}{contig\_868}
\lab[clab]{210}{655}{contig\_585}
\node[ttl] (t11) at (287,602) {\textit{Epichloë brachyelytri} E4804};
\node[ttl] (s11) at (300,616) {CC};
\draw[axis] (417,615) -- (455,615);
\draw[axis] (467,615) -- (535,615);
\draw[axis] (537,615) -- (581,615);
\draw[axis] (584,615) -- (683,615);
\draw[axis] (685,615) -- (745,615);
\gR{433}{440}{615}{gdb}
\gR{443}{448}{615}{gdb}
\oL{448}{455}{615}
\gR{484}{490}{615}{gdb}
\gR{507}{513}{615}{gdb}
\oL{540}{544}{615}
\oR{647}{662}{610}
\oR{688}{712}{610}
\oL{728}{733}{615}
\lab[glab,gdb]{435}{600}{E}
\lab[glab,gdb]{444}{600}{F}
\lab[glab,font=\fontsize{7.5}{9}\selectfont\itshape]{456}{601}{GY}
\lab[glab,gdb]{485}{600}{W}
\lab[glab,gdb]{508}{600}{C}
\lab[glab,font=\fontsize{7.5}{9}\selectfont\itshape]{545}{601}{D\textit{Ψ}}
\lab[glab,font=\fontsize{7.5}{9}\selectfont\itshape]{656}{600}{lpsA\textit{Ψ}-5'}
\lab[glab,font=\fontsize{7.5}{9}\selectfont\itshape]{700}{600}{lpsA\textit{Ψ}-3'}
\lab[glab,font=\fontsize{7.5}{9}\selectfont\itshape]{734}{600}{recQ\textit{Ψ}}
\tb{417}{428}{620}\tb{467}{475}{620}\tb{516}{524}{619}\tb{538}{539}{627}\tb{552}{578}{624}\tb{583}{618}{624}\tb{622}{643}{632}\tb{645}{646}{627}\tb{658}{682}{624}\tb{686}{690}{630}\tb{733}{734}{629}\tb{740}{741}{629}
\lab[tlab]{420}{625}{15}\lab[tlab]{472}{624}{14}\lab[tlab]{520}{624}{14}\lab[tlab]{538}{634}{17}\lab[tlab]{565}{619}{Tahi}\lab[tlab]{602}{619}{14}\lab[tlab]{632}{630}{Whitu}\lab[tlab]{672}{619}{16}\lab[tlab]{688}{625}{16}
\foreach \q in {468,470.5,473,475.5,500,503,517,520}{\bt{\q}{628}}
\nz{417}{455}{633}{652}
\nz{467}{535}{633}{652}
\nz{537}{582}{633}{652}
\nz{583}{683}{633}{652}
\nz{685}{745}{633}{652}
\pl{417}{633}{652}
\lab[clab]{445}{655}{contig\_1629}
\lab[clab]{500}{655}{contig\_1095}
\lab[clab]{558}{655}{contig\_1449}
\lab[clab]{630}{655}{contig\_605}
\lab[clab]{718}{655}{contig\_1069}
\end{tikzpicture}
\end{document}
